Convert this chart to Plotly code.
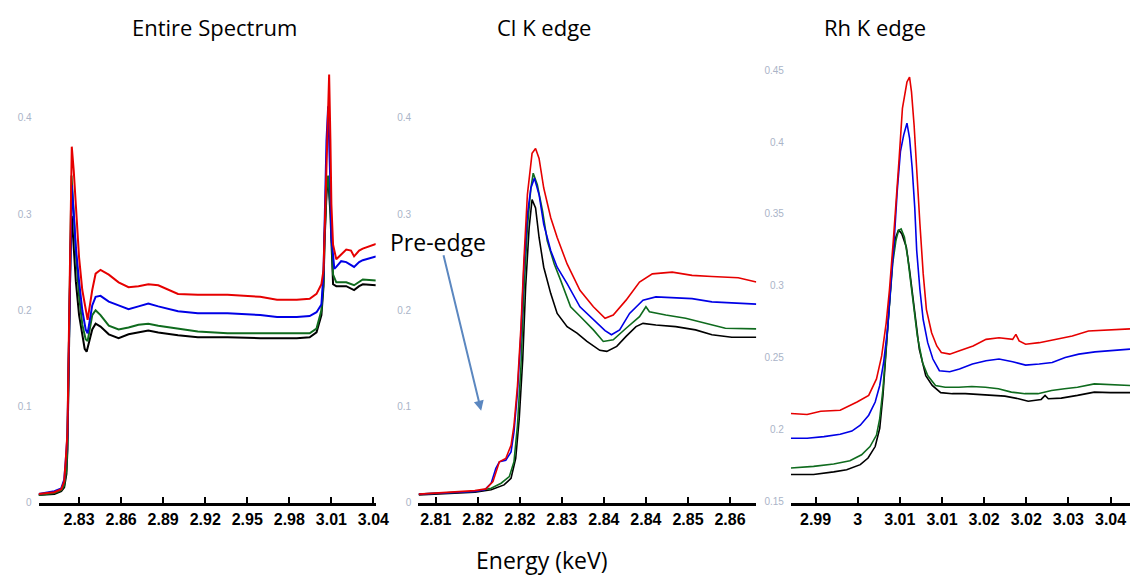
import plotly.graph_objects as go

# ---------------- Entire spectrum ----------------
full_red_x = [2.8011, 2.8124, 2.8173, 2.8194, 2.8205, 2.8217, 2.8224, 2.8232, 2.8239, 2.8248, 2.8262, 2.8277,
              2.8300, 2.8323, 2.8347, 2.8361, 2.8394, 2.8418, 2.8453, 2.8512, 2.8582, 2.8653, 2.8724, 2.8794,
              2.8865, 2.9006, 2.9147, 2.9359, 2.9592, 2.9712, 2.9853, 2.9945, 2.9994, 3.0029, 3.0044, 3.0051,
              3.0065, 3.0077, 3.0084, 3.0093, 3.0100, 3.0112, 3.0135, 3.0170, 3.0206, 3.0240, 3.0262, 3.0298,
              3.0324, 3.0418]
full_red_y = [0.009, 0.011, 0.014, 0.022, 0.044, 0.073, 0.142, 0.221, 0.283, 0.370, 0.345, 0.306,
              0.255, 0.221, 0.201, 0.190, 0.221, 0.238, 0.242, 0.237, 0.229, 0.224, 0.225, 0.227,
              0.226, 0.217, 0.216, 0.216, 0.214, 0.211, 0.211, 0.212, 0.217, 0.227, 0.242, 0.276,
              0.361, 0.412, 0.445, 0.378, 0.310, 0.268, 0.253, 0.258, 0.263, 0.262, 0.256, 0.262,
              0.264, 0.269]

full_blue_x = [2.8011, 2.8124, 2.8173, 2.8194, 2.8205, 2.8217, 2.8224, 2.8232, 2.8239, 2.8248, 2.8262, 2.8277,
               2.8300, 2.8323, 2.8347, 2.8361, 2.8394, 2.8418, 2.8453, 2.8512, 2.8582, 2.8653, 2.8724, 2.8794,
               2.8865, 2.9006, 2.9147, 2.9359, 2.9592, 2.9712, 2.9853, 2.9945, 2.9994, 3.0029, 3.0044, 3.0051,
               3.0065, 3.0077, 3.0084, 3.0093, 3.0100, 3.0121, 3.0135, 3.0170, 3.0206, 3.0262, 3.0298, 3.0324,
               3.0418]
full_blue_y = [0.009, 0.012, 0.015, 0.024, 0.044, 0.070, 0.135, 0.215, 0.275, 0.330, 0.300, 0.265,
               0.230, 0.200, 0.180, 0.176, 0.205, 0.214, 0.215, 0.209, 0.205, 0.201, 0.204, 0.207,
               0.204, 0.199, 0.197, 0.197, 0.195, 0.193, 0.193, 0.194, 0.198, 0.206, 0.240, 0.290,
               0.376, 0.412, 0.380, 0.330, 0.276, 0.243, 0.245, 0.251, 0.250, 0.245, 0.250, 0.252,
               0.256]

full_green_x = [2.8011, 2.8124, 2.8173, 2.8194, 2.8210, 2.8217, 2.8224, 2.8232, 2.8239, 2.8246, 2.8262, 2.8277,
                2.8300, 2.8323, 2.8347, 2.8361, 2.8394, 2.8418, 2.8453, 2.8512, 2.8582, 2.8653, 2.8724, 2.8794,
                2.8865, 2.9006, 2.9147, 2.9359, 2.9592, 2.9712, 2.9853, 2.9945, 2.9994, 3.0029, 3.0044, 3.0051,
                3.0065, 3.0077, 3.0093, 3.0112, 3.0135, 3.0206, 3.0262, 3.0298, 3.0324, 3.0418]
full_green_y = [0.008, 0.010, 0.013, 0.018, 0.035, 0.060, 0.130, 0.215, 0.290, 0.340, 0.300, 0.260,
                0.215, 0.185, 0.170, 0.168, 0.195, 0.200, 0.195, 0.184, 0.180, 0.182, 0.185, 0.186,
                0.184, 0.181, 0.178, 0.176, 0.176, 0.176, 0.176, 0.176, 0.181, 0.200, 0.230, 0.276,
                0.324, 0.340, 0.309, 0.237, 0.229, 0.229, 0.226, 0.230, 0.232, 0.231]

full_black_x = [2.8011, 2.8124, 2.8173, 2.8194, 2.8210, 2.8217, 2.8224, 2.8232, 2.8239, 2.8248, 2.8262, 2.8277,
                2.8300, 2.8323, 2.8340, 2.8354, 2.8394, 2.8418, 2.8453, 2.8512, 2.8582, 2.8653, 2.8724, 2.8794,
                2.8865, 2.9006, 2.9147, 2.9359, 2.9592, 2.9712, 2.9853, 2.9945, 2.9994, 3.0029, 3.0044, 3.0051,
                3.0065, 3.0077, 3.0093, 3.0112, 3.0135, 3.0206, 3.0262, 3.0298, 3.0324, 3.0418]
full_black_y = [0.008, 0.009, 0.012, 0.016, 0.030, 0.055, 0.120, 0.200, 0.260, 0.298, 0.270, 0.230,
                0.195, 0.172, 0.160, 0.157, 0.180, 0.186, 0.183, 0.175, 0.171, 0.175, 0.177, 0.179,
                0.177, 0.174, 0.172, 0.172, 0.171, 0.171, 0.171, 0.172, 0.177, 0.195, 0.225, 0.270,
                0.320, 0.339, 0.300, 0.227, 0.225, 0.225, 0.221, 0.225, 0.227, 0.226]

# ---------------- Cl K edge ----------------
cl_red_x = [2.8056, 2.8106, 2.8152, 2.8171, 2.8183, 2.8194, 2.8205, 2.8214, 2.8219, 2.8225, 2.8231, 2.8236,
            2.8242, 2.8250, 2.8256, 2.8262, 2.8270, 2.8282, 2.8293, 2.8310, 2.8332, 2.8355, 2.8375, 2.8389,
            2.8411, 2.8434, 2.8456, 2.8490, 2.8524, 2.8558, 2.8603, 2.8634]
cl_red_y = [0.0089, 0.0110, 0.0126, 0.0144, 0.0219, 0.0425, 0.0460, 0.0596, 0.0802, 0.1213, 0.1830, 0.2516,
            0.3201, 0.3630, 0.3681, 0.3578, 0.3270, 0.2961, 0.2756, 0.2481, 0.2208, 0.2036, 0.1916, 0.1951,
            0.2105, 0.2293, 0.2378, 0.2396, 0.2362, 0.2350, 0.2337, 0.2293]

cl_blue_x = [2.8056, 2.8106, 2.8152, 2.8169, 2.8180, 2.8188, 2.8194, 2.8205, 2.8214, 2.8219, 2.8225, 2.8231,
             2.8236, 2.8242, 2.8248, 2.8254, 2.8262, 2.8270, 2.8282, 2.8293, 2.8310, 2.8332, 2.8355, 2.8375,
             2.8386, 2.8400, 2.8417, 2.8440, 2.8462, 2.8490, 2.8524, 2.8558, 2.8603, 2.8634]
cl_blue_y = [0.0089, 0.0106, 0.0117, 0.0134, 0.0203, 0.0357, 0.0425, 0.0442, 0.0528, 0.0733, 0.1145, 0.1762,
             0.2447, 0.2995, 0.3270, 0.3373, 0.3201, 0.2893, 0.2619, 0.2447, 0.2276, 0.2036, 0.1899, 0.1789,
             0.1745, 0.1796, 0.1967, 0.2105, 0.2139, 0.2132, 0.2121, 0.2087, 0.2070, 0.2064]

cl_green_x = [2.8056, 2.8106, 2.8152, 2.8180, 2.8197, 2.8211, 2.8219, 2.8225, 2.8231, 2.8236, 2.8242, 2.8248,
              2.8252, 2.8259, 2.8268, 2.8276, 2.8288, 2.8299, 2.8316, 2.8333, 2.8355, 2.8372, 2.8389, 2.8411,
              2.8434, 2.8445, 2.8451, 2.8479, 2.8513, 2.8547, 2.8581, 2.8634]
cl_green_y = [0.0089, 0.0103, 0.0117, 0.0151, 0.0203, 0.0271, 0.0425, 0.0802, 0.1419, 0.2173, 0.2858, 0.3270,
              0.3424, 0.3304, 0.3030, 0.2722, 0.2481, 0.2310, 0.2036, 0.1933, 0.1796, 0.1676, 0.1693, 0.1813,
              0.1933, 0.2036, 0.1985, 0.1950, 0.1916, 0.1864, 0.1813, 0.1806]

cl_black_x = [2.8056, 2.8106, 2.8152, 2.8180, 2.8202, 2.8214, 2.8222, 2.8228, 2.8234, 2.8239, 2.8245, 2.8250,
              2.8256, 2.8262, 2.8270, 2.8282, 2.8293, 2.8310, 2.8327, 2.8344, 2.8366, 2.8378, 2.8395, 2.8411,
              2.8428, 2.8440, 2.8462, 2.8496, 2.8530, 2.8558, 2.8592, 2.8634]
cl_black_y = [0.0082, 0.0096, 0.0110, 0.0134, 0.0185, 0.0254, 0.0460, 0.0871, 0.1488, 0.2242, 0.2858, 0.3150,
              0.3064, 0.2756, 0.2447, 0.2173, 0.1967, 0.1830, 0.1762, 0.1676, 0.1584, 0.1573, 0.1625, 0.1728,
              0.1830, 0.1864, 0.1847, 0.1830, 0.1796, 0.1745, 0.1720, 0.1720]

# ---------------- Rh edge ----------------
rh_red_x = [2.9884, 2.9909, 2.9930, 2.9960, 2.9986, 3.0004, 3.0016, 3.0024, 3.0031, 3.0036, 3.0042, 3.0047,
            3.0051, 3.0056, 3.0063, 3.0067, 3.0070, 3.0074, 3.0078, 3.0083, 3.0088, 3.0093, 3.0101, 3.0109,
            3.0116, 3.0129, 3.0144, 3.0165, 3.0185, 3.0205, 3.0226, 3.0231, 3.0236, 3.0246, 3.0267, 3.0292,
            3.0318, 3.0343, 3.0374, 3.0407]
rh_red_y = [0.2111, 0.2104, 0.2127, 0.2134, 0.2191, 0.2237, 0.2352, 0.2512, 0.2742, 0.2972, 0.3316, 0.3614,
            0.3890, 0.4234, 0.4418, 0.4452, 0.4349, 0.4119, 0.3775, 0.3430, 0.3086, 0.2834, 0.2673, 0.2581,
            0.2535, 0.2524, 0.2547, 0.2581, 0.2627, 0.2638, 0.2627, 0.2662, 0.2616, 0.2593, 0.2604, 0.2627,
            0.2650, 0.2685, 0.2691, 0.2700]

rh_blue_x = [2.9884, 2.9909, 2.9935, 2.9960, 2.9978, 2.9991, 3.0004, 3.0014, 3.0021, 3.0027, 3.0033, 3.0038,
             3.0043, 3.0048, 3.0053, 3.0058, 3.0063, 3.0067, 3.0071, 3.0075, 3.0078, 3.0083, 3.0088, 3.0095,
             3.0103, 3.0113, 3.0129, 3.0144, 3.0164, 3.0185, 3.0205, 3.0226, 3.0246, 3.0267, 3.0287, 3.0307,
             3.0328, 3.0353, 3.0378, 3.0407]
rh_blue_y = [0.1939, 0.1939, 0.1950, 0.1966, 0.1989, 0.2030, 0.2099, 0.2191, 0.2306, 0.2466, 0.2696, 0.2972,
             0.3293, 0.3660, 0.3936, 0.4050, 0.4131, 0.4028, 0.3821, 0.3545, 0.3247, 0.2972, 0.2765, 0.2604,
             0.2490, 0.2409, 0.2402, 0.2421, 0.2455, 0.2478, 0.2490, 0.2471, 0.2448, 0.2455, 0.2466, 0.2501,
             0.2524, 0.2540, 0.2547, 0.2559]

rh_green_x = [2.9884, 2.9919, 2.9950, 2.9975, 2.9993, 3.0006, 3.0016, 3.0021, 3.0026, 3.0031, 3.0036, 3.0041,
              3.0046, 3.0050, 3.0054, 3.0059, 3.0064, 3.0069, 3.0074, 3.0079, 3.0087, 3.0095, 3.0107, 3.0122,
              3.0143, 3.0163, 3.0184, 3.0204, 3.0224, 3.0245, 3.0265, 3.0286, 3.0306, 3.0326, 3.0352, 3.0377,
              3.0407]
rh_green_y = [0.1732, 0.1743, 0.1760, 0.1782, 0.1824, 0.1881, 0.1961, 0.2076, 0.2283, 0.2559, 0.2879, 0.3155,
              0.3316, 0.3385, 0.3396, 0.3339, 0.3201, 0.3017, 0.2834, 0.2650, 0.2466, 0.2375, 0.2306, 0.2294,
              0.2294, 0.2299, 0.2294, 0.2283, 0.2260, 0.2249, 0.2249, 0.2271, 0.2283, 0.2294, 0.2317, 0.2310,
              0.2306]

rh_black_x = [2.9884, 2.9919, 2.9950, 2.9970, 2.9991, 3.0003, 3.0014, 3.0021, 3.0026, 3.0031, 3.0036, 3.0041,
              3.0046, 3.0050, 3.0055, 3.0062, 3.0067, 3.0072, 3.0077, 3.0082, 3.0092, 3.0102, 3.0115, 3.0133,
              3.0153, 3.0174, 3.0194, 3.0214, 3.0235, 3.0250, 3.0270, 3.0276, 3.0281, 3.0301, 3.0326, 3.0352,
              3.0377, 3.0407]
rh_black_y = [0.1686, 0.1686, 0.1705, 0.1720, 0.1755, 0.1801, 0.1881, 0.2008, 0.2237, 0.2559, 0.2926, 0.3201,
              0.3339, 0.3389, 0.3362, 0.3270, 0.3110, 0.2926, 0.2742, 0.2559, 0.2375, 0.2306, 0.2256, 0.2249,
              0.2249, 0.2242, 0.2237, 0.2232, 0.2214, 0.2196, 0.2209, 0.2237, 0.2214, 0.2218, 0.2237, 0.2260,
              0.2256, 0.2256]

# ---------------- axis ticks ----------------
full_tickvals = [2.83, 2.86, 2.89, 2.92, 2.95, 2.98, 3.01, 3.04]
full_ticktext = ["2.83", "2.86", "2.89", "2.92", "2.95", "2.98", "3.01", "3.04"]
cl_tickvals = [2.8085, 2.8157, 2.8229, 2.8301, 2.8373, 2.8445, 2.8517, 2.8589]
cl_ticktext = ["2.81", "2.82", "2.82", "2.83", "2.84", "2.84", "2.85", "2.86"]
rh_tickvals = [2.9922, 2.9987, 3.0052, 3.0117, 3.0182, 3.0247, 3.0312, 3.0377]
rh_ticktext = ["2.99", "3", "3.01", "3.01", "3.02", "3.02", "3.03", "3.04"]

y_ticks_main = [0, 0.1, 0.2, 0.3, 0.4]
y_ticktext_main = ["0", "0.1", "0.2", "0.3", "0.4"]
y_ticks_rh = [0.15, 0.2, 0.25, 0.3, 0.35, 0.4, 0.45]
y_ticktext_rh = ["0.15", "0.2", "0.25", "0.3", "0.35", "0.4", "0.45"]

panel_titles = ["Entire Spectrum", "Cl K edge", "Rh K edge"]
x_title = "Energy (keV)"
arrow_label = "Pre-edge"

COLORS = {"black": "#000000", "green": "#0f6b1e", "blue": "#0000e6", "red": "#e60000"}

panels = [
    ("x", "y", 2.0, [(full_black_x, full_black_y, "black"), (full_green_x, full_green_y, "green"),
                     (full_blue_x, full_blue_y, "blue"), (full_red_x, full_red_y, "red")]),
    ("x2", "y2", 1.6, [(cl_black_x, cl_black_y, "black"), (cl_green_x, cl_green_y, "green"),
                       (cl_blue_x, cl_blue_y, "blue"), (cl_red_x, cl_red_y, "red")]),
    ("x3", "y3", 1.6, [(rh_black_x, rh_black_y, "black"), (rh_green_x, rh_green_y, "green"),
                       (rh_blue_x, rh_blue_y, "blue"), (rh_red_x, rh_red_y, "red")]),
]

fig = go.Figure()
for xa, ya, lw, series in panels:
    for xs, ys, c in series:
        fig.add_trace(go.Scatter(x=xs, y=ys, mode="lines", xaxis=xa, yaxis=ya,
                                 line=dict(color=COLORS[c], width=lw), showlegend=False,
                                 hoverinfo="skip"))

W, H = 1143, 579

def xaxis_style(domain, rng, tv, tt):
    return dict(domain=domain, range=rng, tickmode="array", tickvals=tv, ticktext=tt,
                showline=True, linecolor="black", linewidth=2.5, ticks="inside", ticklen=6,
                tickwidth=2, tickcolor="black", showgrid=False, zeroline=False,
                tickfont=dict(family="Liberation Sans, Arial", size=16, color="black", weight="bold"))

def yaxis_style(domain, rng, tv, tt, anchor):
    return dict(domain=domain, range=rng, tickmode="array", tickvals=tv, ticktext=tt,
                showline=False, ticks="", showgrid=False, zeroline=False, anchor=anchor,
                ticklabelstandoff=6,
                tickfont=dict(family="Liberation Sans, Arial", size=10, color="#aab4c8"))

bottom = 1 - 508 / H
fig.update_layout(
    width=W, height=H, margin=dict(l=0, r=0, t=0, b=0),
    paper_bgcolor="white", plot_bgcolor="white",
    xaxis=xaxis_style([39 / W, 380 / W], [2.8011, 3.0416], full_tickvals, full_ticktext),
    xaxis2=dict(**xaxis_style([423 / W, 765 / W], [2.8055, 2.8634], cl_tickvals, cl_ticktext), anchor="y2"),
    xaxis3=dict(**xaxis_style([800 / W, 1.0], [2.9884, 3.0407], rh_tickvals, rh_ticktext), anchor="y3"),
    yaxis=yaxis_style([bottom, 1 - (508 - 0.46 * 972.5) / H], [0, 0.46], y_ticks_main, y_ticktext_main, "x"),
    yaxis2=yaxis_style([bottom, 1 - (508 - 0.46 * 972.5) / H], [0, 0.46], y_ticks_main, y_ticktext_main, "x2"),
    yaxis3=yaxis_style([bottom, 1 - (508 - 0.311 * 1452) / H], [0.149, 0.46], y_ticks_rh, y_ticktext_rh, "x3"),
)

title_font = dict(family="Open Sans, Lato, sans-serif", size=22, color="black")
for cx, txt in zip([217, 550, 885], panel_titles):
    fig.add_annotation(text=txt, x=cx / W, y=1 - 27 / H, xref="paper", yref="paper",
                       showarrow=False, xanchor="center", yanchor="middle", font=title_font)

fig.add_annotation(text=x_title, x=548 / W, y=1 - 566 / H, xref="paper", yref="paper",
                   showarrow=False, xanchor="center", yanchor="middle",
                   font=dict(family="Open Sans, Lato, sans-serif", size=23, color="black"))

fig.add_annotation(text=arrow_label, x=443 / W, y=1 - 245 / H, xref="paper", yref="paper",
                   showarrow=False, xanchor="center", yanchor="middle",
                   font=dict(family="Open Sans, Lato, sans-serif", size=23, color="black"))
fig.add_annotation(text="", x=486.7 / W, y=1 - 415 / H, xref="paper", yref="paper",
                   showarrow=True, ax=-38, ay=-157, arrowhead=2, arrowsize=1, arrowwidth=2,
                   arrowcolor="#5b87c0", standoff=0)

fig.write_html("out.html")
